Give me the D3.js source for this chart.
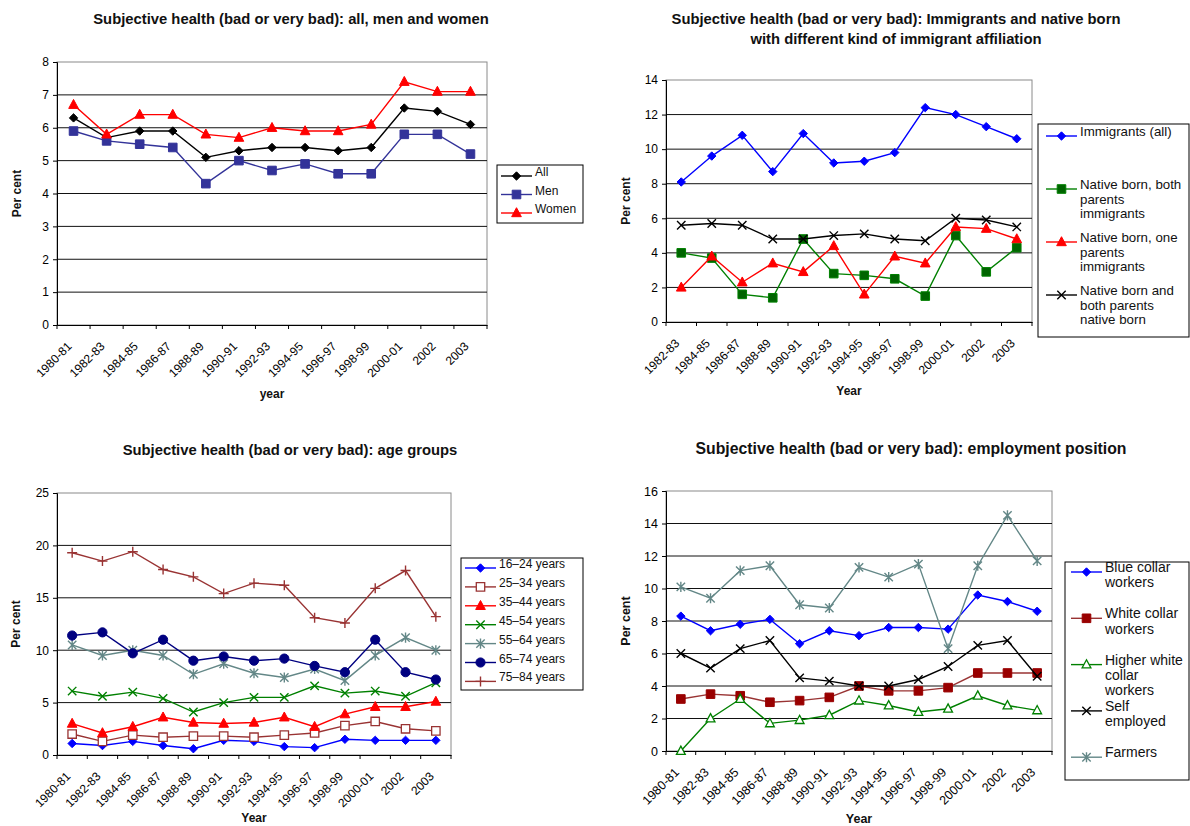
<!DOCTYPE html>
<html>
<head>
<meta charset="utf-8">
<script src="https://cdn.jsdelivr.net/npm/d3@7"></script>
<style>
  html, body { margin: 0; padding: 0; background: #fff; }
  svg { display: block; font-family: "Liberation Sans", Arial, Helvetica, sans-serif; }
</style>
</head>
<body>
<svg id="chart" width="1190" height="826"></svg>
<script>
// ---- categories ----
const years13 = ["1980-81","1982-83","1984-85","1986-87","1988-89","1990-91","1992-93","1994-95","1996-97","1998-99","2000-01","2002","2003"];
const years12 = ["1982-83","1984-85","1986-87","1988-89","1990-91","1992-93","1994-95","1996-97","1998-99","2000-01","2002","2003"];

// ---- panel 1: all, men and women ----
const allValues   = [6.3, 5.7, 5.9, 5.9, 5.1, 5.3, 5.4, 5.4, 5.3, 5.4, 6.6, 6.5, 6.1];
const menValues   = [5.9, 5.6, 5.5, 5.4, 4.3, 5.0, 4.7, 4.9, 4.6, 4.6, 5.8, 5.8, 5.2];
const womenValues = [6.7, 5.8, 6.4, 6.4, 5.8, 5.7, 6.0, 5.9, 5.9, 6.1, 7.4, 7.1, 7.1];
const sexLabels = [["All"], ["Men"], ["Women"]];
const sexTicks = [0, 1, 2, 3, 4, 5, 6, 7, 8];

// ---- panel 2: immigrant affiliation ----
const immigrantsAll     = [8.1, 9.6, 10.8, 8.7, 10.9, 9.2, 9.3, 9.8, 12.4, 12.0, 11.3, 10.6];
const nativeBothImm     = [4.0, 3.7, 1.6, 1.4, 4.8, 2.8, 2.7, 2.5, 1.5, 5.0, 2.9, 4.3];
const nativeOneImm      = [2.0, 3.8, 2.3, 3.4, 2.9, 4.4, 1.6, 3.8, 3.4, 5.5, 5.4, 4.8];
const nativeBothNative  = [5.6, 5.7, 5.6, 4.8, 4.8, 5.0, 5.1, 4.8, 4.7, 6.0, 5.9, 5.5];
const immLabels = [
  ["Immigrants (all)"],
  ["Native born, both", "parents", "immigrants"],
  ["Native born, one", "parents", "immigrants"],
  ["Native born and", "both parents", "native born"]
];
const immTicks = [0, 2, 4, 6, 8, 10, 12, 14];

// ---- panel 3: age groups ----
const age16_24 = [1.1, 0.9, 1.3, 0.9, 0.6, 1.4, 1.3, 0.8, 0.7, 1.5, 1.4, 1.4, 1.4];
const age25_34 = [2.0, 1.3, 1.9, 1.7, 1.8, 1.8, 1.7, 1.9, 2.1, 2.8, 3.2, 2.5, 2.3];
const age35_44 = [3.0, 2.1, 2.7, 3.6, 3.1, 3.0, 3.1, 3.6, 2.7, 3.9, 4.6, 4.6, 5.1];
const age45_54 = [6.1, 5.6, 6.0, 5.4, 4.1, 5.0, 5.5, 5.5, 6.6, 5.9, 6.1, 5.6, 6.9];
const age55_64 = [10.5, 9.5, 10.0, 9.5, 7.7, 8.7, 7.8, 7.4, 8.2, 7.1, 9.5, 11.2, 10.0];
const age65_74 = [11.4, 11.7, 9.7, 11.0, 9.0, 9.4, 9.0, 9.2, 8.5, 7.9, 11.0, 7.9, 7.2];
const age75_84 = [19.3, 18.5, 19.4, 17.7, 17.0, 15.4, 16.4, 16.2, 13.1, 12.6, 15.9, 17.6, 13.2];
const ageLabels = [["16–24 years"], ["25–34 years"], ["35–44 years"], ["45–54 years"], ["55–64 years"], ["65–74 years"], ["75–84 years"]];
const ageTicks = [0, 5, 10, 15, 20, 25];

// ---- panel 4: employment position ----
const blueCollar   = [8.3, 7.4, 7.8, 8.1, 6.6, 7.4, 7.1, 7.6, 7.6, 7.5, 9.6, 9.2, 8.6];
const whiteCollar  = [3.2, 3.5, 3.4, 3.0, 3.1, 3.3, 4.0, 3.7, 3.7, 3.9, 4.8, 4.8, 4.8];
const higherWhite  = [0.0, 2.0, 3.2, 1.7, 1.9, 2.2, 3.1, 2.8, 2.4, 2.6, 3.4, 2.8, 2.5];
const selfEmployed = [6.0, 5.1, 6.3, 6.8, 4.5, 4.3, 4.0, 4.0, 4.4, 5.2, 6.5, 6.8, 4.6];
const farmers      = [10.1, 9.4, 11.1, 11.4, 9.0, 8.8, 11.3, 10.7, 11.5, 6.3, 11.4, 14.5, 11.7];
const empLabels = [
  ["Blue collar", "workers"],
  ["White collar", "workers"],
  ["Higher white", "collar", "workers"],
  ["Self", "employed"],
  ["Farmers"]
];
const empTicks = [0, 2, 4, 6, 8, 10, 12, 14, 16];

// ---- marker shapes, centred on 0,0 ----
function markerPath(type, s) {
  switch (type) {
    case "diamond":  return `M0,${-s}L${s},0L0,${s}L${-s},0Z`;
    case "square":   return `M${-s},${-s}H${s}V${s}H${-s}Z`;
    case "triangle": return `M0,${-s * 1.15}L${s * 1.05},${s * 0.8}L${-s * 1.05},${s * 0.8}Z`;
    case "x":        return `M${-s},${-s}L${s},${s}M${s},${-s}L${-s},${s}`;
    case "plus":     return `M${-s},0H${s}M0,${-s}V${s}`;
    case "asterisk": return `M${-s},${-s}L${s},${s}M${s},${-s}L${-s},${s}M0,${-s * 1.2}V${s * 1.2}`;
    case "circle":   return `M${s},0A${s},${s} 0 1,1 ${-s},0A${s},${s} 0 1,1 ${s},0Z`;
  }
}

const svg = d3.select("#chart");
const FONT = "'Liberation Sans', Arial, sans-serif";

function drawPanel(cfg) {
  const fs = cfg.fs;
  const g = svg.append("g");
  const x = d3.scaleBand().domain(cfg.categories).range([cfg.left, cfg.right]).padding(0);
  const y = d3.scaleLinear().domain([0, d3.max(cfg.ticks)]).range([cfg.bottom, cfg.top]);
  const cx = c => x(c) + x.bandwidth() / 2;

  // plot frame
  g.append("rect")
    .attr("x", cfg.left).attr("y", cfg.top)
    .attr("width", cfg.right - cfg.left).attr("height", cfg.bottom - cfg.top)
    .attr("fill", "#fff").attr("stroke", "#8a8a8a").attr("stroke-width", 1);

  // horizontal gridlines
  g.selectAll(".grid").data(cfg.ticks.filter(t => t > 0 && t < d3.max(cfg.ticks)))
    .join("line")
    .attr("x1", cfg.left).attr("x2", cfg.right)
    .attr("y1", d => y(d)).attr("y2", d => y(d))
    .attr("stroke", "#111").attr("stroke-width", 1);

  // y axis
  const yAxis = g.append("g")
    .attr("transform", `translate(${cfg.left},0)`)
    .call(d3.axisLeft(y).tickValues(cfg.ticks).tickSize(4).tickPadding(4).tickFormat(d3.format("d")));
  yAxis.select(".domain").attr("stroke", "#000");
  yAxis.selectAll(".tick line").attr("stroke", "#000");
  yAxis.selectAll("text").attr("font-size", fs.tick).attr("fill", "#000").attr("font-family", FONT);

  // x axis with ticks between categories
  const xAxis = g.append("g")
    .attr("transform", `translate(0,${cfg.bottom})`)
    .call(d3.axisBottom(x).tickSize(0).tickPadding(0));
  xAxis.select(".domain").attr("stroke", "#000");
  xAxis.selectAll(".tick text")
    .attr("font-size", fs.tick).attr("fill", "#000").attr("font-family", FONT)
    .attr("text-anchor", "end")
    .attr("dy", "0.35em")
    .attr("transform", "translate(-4,19) rotate(-45)");
  const bounds = cfg.categories.map(c => x(c)).concat([cfg.right]);
  xAxis.selectAll(".bound").data(bounds).join("line")
    .attr("x1", d => d).attr("x2", d => d)
    .attr("y1", 0).attr("y2", 4)
    .attr("stroke", "#000");

  // series
  cfg.series.forEach(s => {
    const line = d3.line().x((d, i) => cx(cfg.categories[i])).y(d => y(d));
    g.append("path").datum(s.values)
      .attr("d", line).attr("fill", "none")
      .attr("stroke", s.color).attr("stroke-width", 1.4);
    g.selectAll(null).data(s.values).join("path")
      .attr("transform", (d, i) => `translate(${cx(cfg.categories[i])},${y(d)})`)
      .attr("d", markerPath(s.marker, s.size))
      .attr("fill", s.fill)
      .attr("stroke", s.mstroke)
      .attr("stroke-width", s.sw || 1);
  });

  // titles
  const title = g.append("text")
    .attr("x", cfg.titleX).attr("y", cfg.titleY)
    .attr("text-anchor", "middle").attr("font-size", fs.title).attr("font-weight", "bold").attr("fill", "#111");
  cfg.title.forEach((t, i) => title.append("tspan").attr("x", cfg.titleX).attr("dy", i ? 20 : 0).text(t));

  g.append("text")
    .attr("transform", `translate(${cfg.yTitleX},${(cfg.top + cfg.bottom) / 2}) rotate(-90)`)
    .attr("text-anchor", "middle").attr("font-size", fs.axis).attr("font-weight", "bold").attr("fill", "#111")
    .text("Per cent");
  g.append("text")
    .attr("x", (cfg.left + cfg.right) / 2).attr("y", cfg.xTitleY)
    .attr("text-anchor", "middle").attr("font-size", fs.axis).attr("font-weight", "bold").attr("fill", "#111")
    .text(cfg.xTitle);

  // legend
  const L = cfg.legend;
  g.append("rect")
    .attr("x", L.x).attr("y", L.y).attr("width", L.w).attr("height", L.h)
    .attr("fill", "#fff").attr("stroke", "#000").attr("stroke-width", 1);
  cfg.series.forEach((s, i) => {
    const ey = L.first + i * L.step;
    const lg = g.append("g");
    lg.append("line")
      .attr("x1", L.lineX).attr("x2", L.lineX + 31)
      .attr("y1", ey).attr("y2", ey)
      .attr("stroke", s.color).attr("stroke-width", 1.4);
    lg.append("path")
      .attr("transform", `translate(${L.lineX + 15.5},${ey})`)
      .attr("d", markerPath(s.marker, s.size))
      .attr("fill", s.fill).attr("stroke", s.mstroke).attr("stroke-width", s.sw || 1);
    const t = lg.append("text")
      .attr("x", L.lineX + 34).attr("y", ey)
      .attr("font-size", fs.legend).attr("fill", "#111").attr("dy", "0.35em");
    cfg.labels[i].forEach((line, j) => t.append("tspan")
      .attr("x", L.lineX + 34).attr("dy", j ? L.lineH : 0).text(line));
  });
}

const RED = "#ff0000", BLUE = "#0000ff", GREEN = "#008000", NAVY = "#000080",
      MEN = "#333399", BROWN = "#993333", TEAL = "#638787";

drawPanel({
  categories: years13, ticks: sexTicks,
  left: 57, right: 487, top: 62, bottom: 325,
  fs: { title: 14.8, tick: 12, axis: 12, legend: 12 },
  title: ["Subjective health (bad or very bad): all, men and women"], titleX: 291, titleY: 24,
  yTitleX: 21, xTitle: "year", xTitleY: 398,
  labels: sexLabels,
  series: [
    { values: allValues,   color: "#000", marker: "diamond",  size: 4.2, fill: "#000", mstroke: "#000" },
    { values: menValues,   color: MEN,    marker: "square",   size: 4.3, fill: MEN,    mstroke: MEN },
    { values: womenValues, color: RED,    marker: "triangle", size: 4.6, fill: RED,    mstroke: RED }
  ],
  legend: { x: 497, y: 165, w: 86, h: 58, first: 176, step: 18.5, lineX: 501, lineH: 14 }
});

drawPanel({
  categories: years12, ticks: immTicks,
  left: 666, right: 1032, top: 80, bottom: 322,
  fs: { title: 14.8, tick: 12, axis: 12, legend: 13.3 },
  title: ["Subjective health (bad or very bad): Immigrants and native born", "with different kind of immigrant affiliation"],
  titleX: 896, titleY: 24,
  yTitleX: 630, xTitle: "Year", xTitleY: 395,
  labels: immLabels,
  series: [
    { values: immigrantsAll,    color: BLUE,  marker: "diamond",  size: 4.2, fill: BLUE,     mstroke: BLUE },
    { values: nativeBothImm,    color: GREEN, marker: "square",   size: 4.3, fill: "#006400", mstroke: GREEN },
    { values: nativeOneImm,     color: RED,   marker: "triangle", size: 4.6, fill: RED,      mstroke: RED },
    { values: nativeBothNative, color: "#000", marker: "x",       size: 4.2, fill: "none",   mstroke: "#000", sw: 1.4 }
  ],
  legend: { x: 1038, y: 124, w: 151, h: 213, first: 136, step: 53, lineX: 1046, lineH: 14.6 }
});

drawPanel({
  categories: years13, ticks: ageTicks,
  left: 57, right: 451, top: 493, bottom: 755,
  fs: { title: 14.8, tick: 12, axis: 12, legend: 12 },
  title: ["Subjective health (bad or very bad): age groups"], titleX: 290, titleY: 455,
  yTitleX: 20, xTitle: "Year", xTitleY: 822,
  labels: ageLabels,
  series: [
    { values: age16_24, color: BLUE,  marker: "diamond",  size: 4.2, fill: BLUE,   mstroke: BLUE },
    { values: age25_34, color: BROWN, marker: "square",   size: 4.2, fill: "#fff", mstroke: BROWN, sw: 1.3 },
    { values: age35_44, color: RED,   marker: "triangle", size: 4.6, fill: RED,    mstroke: RED },
    { values: age45_54, color: GREEN, marker: "x",        size: 4.2, fill: "none", mstroke: GREEN, sw: 1.4 },
    { values: age55_64, color: TEAL,  marker: "asterisk", size: 4.2, fill: "none", mstroke: TEAL,  sw: 1.4 },
    { values: age65_74, color: NAVY,  marker: "circle",   size: 4.6, fill: NAVY,   mstroke: NAVY },
    { values: age75_84, color: BROWN, marker: "plus",     size: 5,   fill: "none", mstroke: BROWN, sw: 1.4 }
  ],
  legend: { x: 461, y: 558, w: 122, h: 132, first: 568, step: 18.9, lineX: 465, lineH: 14 }
});

drawPanel({
  categories: years13, ticks: empTicks,
  left: 666, right: 1052, top: 491, bottom: 751,
  fs: { title: 15.8, tick: 12.5, axis: 12.5, legend: 14 },
  title: ["Subjective health (bad or very bad): employment position"], titleX: 911, titleY: 454,
  yTitleX: 630, xTitle: "Year", xTitleY: 823,
  labels: empLabels,
  series: [
    { values: blueCollar,   color: BLUE,  marker: "diamond",  size: 4.2, fill: BLUE,   mstroke: BLUE },
    { values: whiteCollar,  color: BROWN, marker: "square",   size: 4.3, fill: "#990000", mstroke: "#990000" },
    { values: higherWhite,  color: GREEN, marker: "triangle", size: 4.2, fill: "#fff", mstroke: GREEN, sw: 1.3 },
    { values: selfEmployed, color: "#000", marker: "x",       size: 4.2, fill: "none", mstroke: "#000", sw: 1.4 },
    { values: farmers,      color: TEAL,  marker: "asterisk", size: 4.2, fill: "none", mstroke: TEAL, sw: 1.4 }
  ],
  legend: { x: 1065, y: 562, w: 124, h: 218, first: 572, step: 46.3, lineX: 1071, lineH: 15.4 }
});
</script>
</body>
</html>
